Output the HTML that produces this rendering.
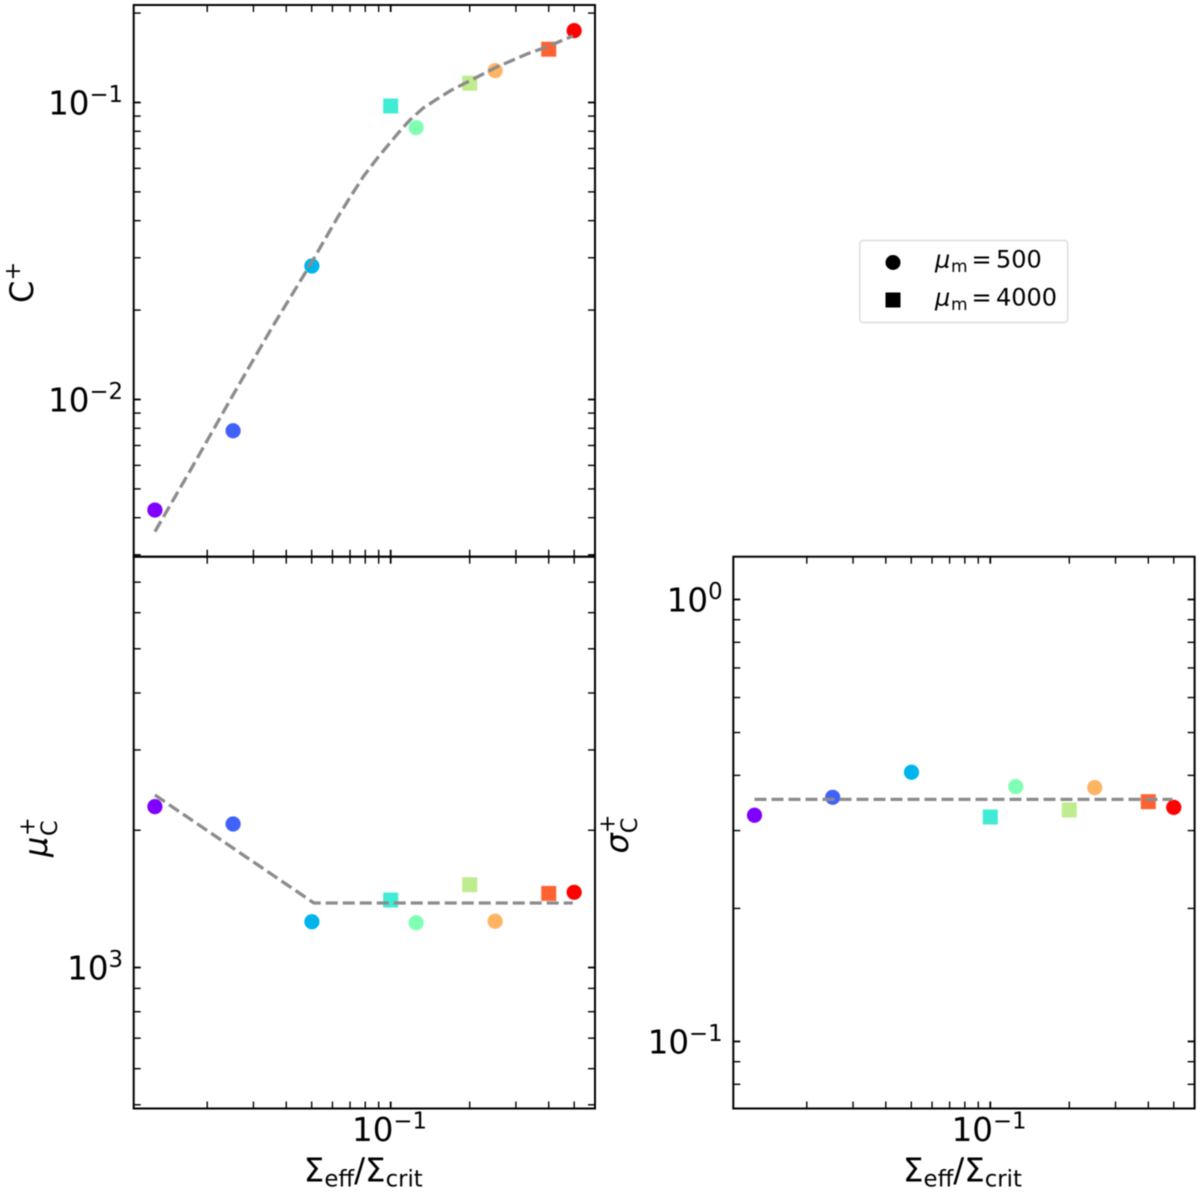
<!DOCTYPE html>
<html lang="en">
<head>
<meta charset="utf-8">
<title>Log-log fit panels</title>
<style>
  html, body { margin: 0; padding: 0; background: #fff; }
  body { width: 1200px; height: 1193px; overflow: hidden; }
  #chart { display: block; filter: blur(0.55px); }
  text { font-family: "DejaVu Sans", "Liberation Sans", sans-serif; fill: #000; }
</style>
</head>
<body>
<svg id="chart" xmlns="http://www.w3.org/2000/svg" width="1200" height="1193" viewBox="0 0 1200 1193">
  <rect x="0" y="0" width="1200" height="1193" fill="#fff"/>
  <g id="panels"></g>

  <g>
    <rect x="859.7" y="240.5" width="208" height="82" rx="3.5" fill="#fff" stroke="#dcdcdc" stroke-width="1.4"/>
    <g>
      <circle cx="893" cy="262.5" r="7.5" fill="#000"/>
      <text font-size="24" y="267.5"><tspan x="935" font-style="italic">μ</tspan><tspan x="951" y="272.2" font-size="17">m</tspan><tspan x="971.5" y="267.5">=</tspan><tspan x="996">500</tspan></text>
    </g>
    <g>
      <rect x="885.5" y="292.5" width="15" height="15" fill="#000"/>
      <text font-size="24" y="305.3"><tspan x="935" font-style="italic">μ</tspan><tspan x="951" y="310" font-size="17">m</tspan><tspan x="971.5" y="305.3">=</tspan><tspan x="996">4000</tspan></text>
    </g>
  </g>

  <g>
    <text x="303.8" y="1181.7" font-size="32.5">Σ<tspan font-size="22.8" dy="5">eff</tspan><tspan dy="-5">/Σ</tspan><tspan font-size="22.8" dy="5">crit</tspan></text>
  </g>
  <g>
    <text x="903" y="1181.7" font-size="32.5">Σ<tspan font-size="22.8" dy="5">eff</tspan><tspan dy="-5">/Σ</tspan><tspan font-size="22.8" dy="5">crit</tspan></text>
  </g>

  <g transform="translate(33,303) rotate(-90)">
    <text x="0" y="0" font-size="32">C</text>
    <text x="22.5" y="-13" font-size="22.4">+</text>
  </g>
  <g transform="translate(47,857) rotate(-90)">
    <text x="0" y="0" font-size="32" font-style="italic">μ</text>
    <text x="21" y="10" font-size="22.4">C</text>
    <text x="21" y="-12.5" font-size="22.4">+</text>
  </g>
  <g transform="translate(628,853.5) rotate(-90)">
    <text x="0" y="0" font-size="32" font-style="italic">σ</text>
    <text x="20.3" y="9" font-size="22.4">C</text>
    <text x="20.3" y="-13.5" font-size="22.4">+</text>
  </g>
</svg>

<script>
// ---- data ----
const surfaceDensity = [0.01264, 0.0251, 0.0501, 0.1, 0.125, 0.2, 0.25, 0.4, 0.5];
const massParam = [500, 500, 500, 4000, 500, 4000, 500, 4000, 500];
const cPlus = [0.004244, 0.00785, 0.02815, 0.0973, 0.0823, 0.1161, 0.128, 0.1511, 0.1745];
const muPlus = [2253, 2064, 1260, 1406, 1254, 1519, 1263, 1454, 1462];
const sigmaPlus = [0.325, 0.3568, 0.4065, 0.322, 0.3772, 0.334, 0.3752, 0.3487, 0.3386];

const cFitX = [0.01264, 0.0172, 0.02507, 0.03522, 0.0501, 0.063, 0.06998, 0.07862, 0.08845, 0.09792, 0.1069, 0.1184, 0.1327, 0.1497, 0.1708, 0.2005, 0.2539, 0.3303, 0.3971, 0.4943];
const cFitY = [0.00359, 0.00575, 0.01035, 0.01741, 0.02904, 0.04126, 0.04788, 0.05627, 0.06455, 0.07192, 0.07895, 0.08732, 0.09561, 0.1025, 0.1102, 0.1184, 0.1317, 0.1456, 0.1544, 0.1675];
const muFitX = [0.01264, 0.051, 0.4943];
const muFitY = [2389, 1385, 1385];
const sigmaFitX = [0.01264, 0.4943];
const sigmaFitY = [0.353, 0.353];

const xLimits = [0.010495, 0.6003];
const cLimits = [0.002956, 0.2129];
const muLimits = [490.7, 7960];
const sigmaLimits = [0.07052, 1.2497];

const xMajorExponents = [-1];
const cMajorExponents = [-2, -1];
const muMajorExponents = [3];
const sigmaMajorExponents = [-1, 0];
const minorMultipliers = [2, 3, 4, 5, 6, 7, 8, 9];

// ---- drawing ----
const NS = 'http://www.w3.org/2000/svg';
const root = document.getElementById('panels');

function make(tag, attrs, parent) {
  const el = document.createElementNS(NS, tag);
  for (const k in attrs) el.setAttribute(k, attrs[k]);
  parent.appendChild(el);
  return el;
}

function logScale(domain, a, b) {
  const l0 = Math.log10(domain[0]), l1 = Math.log10(domain[1]);
  return v => a + (Math.log10(v) - l0) / (l1 - l0) * (b - a);
}

function rainbow(t) {
  const r = Math.min(1, Math.abs(2 * t - 0.5));
  const g = Math.sin(Math.PI * t);
  const b = Math.cos(Math.PI * t / 2);
  return 'rgb(' + Math.round(r * 255) + ',' + Math.round(g * 255) + ',' + Math.round(b * 255) + ')';
}

function ticksInRange(limits) {
  const out = [];
  const lo = Math.floor(Math.log10(limits[0]));
  const hi = Math.ceil(Math.log10(limits[1]));
  for (let e = lo; e <= hi; e++) {
    const base = Math.pow(10, e);
    if (base >= limits[0] && base <= limits[1]) out.push({ v: base, major: true });
    minorMultipliers.forEach(m => {
      const v = m * base;
      if (v >= limits[0] && v <= limits[1]) out.push({ v: v, major: false });
    });
  }
  return out;
}

function powerLabel(parent, exponent, x, y, anchor, name) {
  const t = make('text', { x: x, y: y, 'font-size': 32.5, 'text-anchor': anchor }, parent);
  
  
  t.textContent = '10';
  const s = make('tspan', { 'font-size': 22.75, dy: -12.6 }, t);
  s.textContent = String(exponent).replace('-', '\u2212');
}

function drawPanel(cfg) {
  const g = make('g', {}, root);
  
  

  const sx = logScale(xLimits, cfg.left, cfg.right);
  const sy = logScale(cfg.yLimits, cfg.bottom, cfg.top);

  const markers = make('g', {}, g);
  
  

  surfaceDensity.forEach((xv, i) => {
    const cx = sx(xv), cy = sy(cfg.values[i]);
    const fill = rainbow(i / (surfaceDensity.length - 1));
    let m;
    if (massParam[i] === 500) {
      m = make('circle', { cx: cx, cy: cy, r: 7.6, fill: fill }, markers);
    } else {
      m = make('rect', { x: cx - 7.5, y: cy - 7.5, width: 15, height: 15, fill: fill }, markers);
    }
    
    
  });

  const pts = cfg.fitX.map((xv, i) => sx(xv).toFixed(2) + ',' + sy(cfg.fitY[i]).toFixed(2)).join(' ');
  const fit = make('polyline', {
    points: pts, fill: 'none', stroke: '#8c8c8c', 'stroke-width': 3.3,
    'stroke-dasharray': '12 5', 'stroke-linejoin': 'round'
  }, g);
  
  

  const ticks = make('g', { stroke: '#000' }, g);
  
  
  const len = 7;

  ticksInRange(xLimits).forEach(t => {
    const x = sx(t.v), w = t.major ? 1.8 : 1.4;
    const lower = make('line', { x1: x, x2: x, y1: cfg.bottom, y2: cfg.bottom - len, 'stroke-width': w }, ticks);
    
    
    const upper = make('line', { x1: x, x2: x, y1: cfg.top, y2: cfg.top + len, 'stroke-width': w }, ticks);
    
    
  });

  ticksInRange(cfg.yLimits).forEach(t => {
    const y = sy(t.v), w = t.major ? 1.8 : 1.4;
    const a = make('line', { x1: cfg.left, x2: cfg.left + len, y1: y, y2: y, 'stroke-width': w }, ticks);
    
    
    const b = make('line', { x1: cfg.right, x2: cfg.right - len, y1: y, y2: y, 'stroke-width': w }, ticks);
    
    
  });

  const frame = make('rect', {
    x: cfg.left, y: cfg.top, width: cfg.right - cfg.left, height: cfg.bottom - cfg.top,
    fill: 'none', stroke: '#000', 'stroke-width': 2
  }, g);
  
  

  cfg.yMajor.forEach(e => {
    powerLabel(g, e, cfg.left - 10.7, sy(Math.pow(10, e)) + 12, 'end', 'y-tick-label');
  });

  if (cfg.showX) {
    xMajorExponents.forEach(e => {
      powerLabel(g, e, sx(Math.pow(10, e)) - 1.2, 1141, 'middle', 'x-tick-label');
    });
  }
}

drawPanel({
  name: 'panel-c-plus', left: 133.7, right: 595, top: 5, bottom: 556.7,
  yLimits: cLimits, values: cPlus, fitX: cFitX, fitY: cFitY,
  yMajor: cMajorExponents, showX: false
});
drawPanel({
  name: 'panel-mu-c', left: 133.7, right: 595, top: 556.7, bottom: 1108.5,
  yLimits: muLimits, values: muPlus, fitX: muFitX, fitY: muFitY,
  yMajor: muMajorExponents, showX: true
});
drawPanel({
  name: 'panel-sigma-c', left: 733.3, right: 1194.6, top: 556.7, bottom: 1108.5,
  yLimits: sigmaLimits, values: sigmaPlus, fitX: sigmaFitX, fitY: sigmaFitY,
  yMajor: sigmaMajorExponents, showX: true
});
</script>
</body>
</html>
